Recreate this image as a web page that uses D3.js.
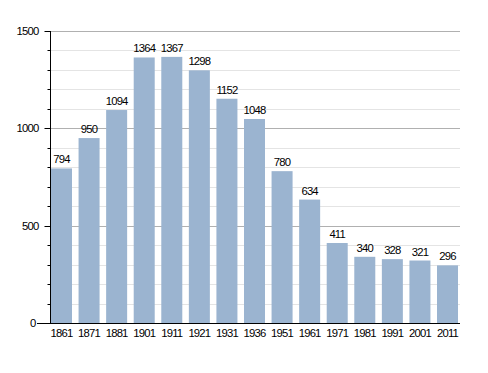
<!DOCTYPE html>
<html><head><meta charset="utf-8">
<script src="https://cdn.jsdelivr.net/npm/d3@7"></script>
<style>body{margin:0;background:#fff}svg{display:block}text{font-family:"Liberation Sans",Arial,sans-serif;font-size:11.3px;letter-spacing:-0.8px;fill:#000}</style>
</head><body>
<svg id="c" width="488" height="373"></svg>
<script>
const years = ["1861","1871","1881","1901","1911","1921","1931","1936","1951","1961","1971","1981","1991","2001","2011"];
const population = [794,950,1094,1364,1367,1298,1152,1048,780,634,411,340,328,321,296];
const yTicks = [0,500,1000,1500];

const svg = d3.select("#c");
const x = d3.scaleBand().domain(years).range([50,459]).paddingInner(0.238).paddingOuter(0.036);
const y = d3.scaleLinear().domain([0,1500]).range([323,31]);

const minor = d3.range(100,1501,100);
svg.append("g").selectAll("line").data(minor).join("line")
  .attr("x1",50).attr("x2",460).attr("y1",d=>Math.round(y(d))+0.5).attr("y2",d=>Math.round(y(d))+0.5)
  .attr("stroke",d=>d%500===0?"#b0b0b0":"#e4e4e4").attr("stroke-width",1);

svg.append("g").selectAll("rect").data(population).join("rect")
  .attr("x",(d,i)=>x(years[i])).attr("width",x.bandwidth())
  .attr("y",d=>y(d)).attr("height",d=>y(0)-y(d)).attr("fill","#9bb4d0");

svg.append("g").selectAll("text").data(population).join("text")
  .attr("x",(d,i)=>x(years[i])+x.bandwidth()/2).attr("y",d=>y(d)-5)
  .attr("text-anchor","middle").text(d=>d);

const ax = svg.append("g").attr("transform","translate(50.5,0)");
ax.append("line").attr("y1",31).attr("y2",y(0)).attr("stroke","#000");
ax.selectAll(".mt").data(d3.range(100,1501,100)).join("line")
  .attr("x1",d=>d%500===0?-6:-3).attr("x2",0)
  .attr("y1",d=>Math.round(y(d))+0.5).attr("y2",d=>Math.round(y(d))+0.5).attr("stroke","#000");
ax.selectAll("text").data(yTicks).join("text")
  .attr("x",d=>d===0?-15:-12).attr("y",d=>y(d)+4).attr("text-anchor","end").text(d=>d);

svg.append("line").attr("x1",37).attr("x2",460).attr("y1",323.5).attr("y2",323.5).attr("stroke","#000");
svg.append("g").selectAll("text").data(years).join("text")
  .attr("x",d=>x(d)+x.bandwidth()/2).attr("y",337).attr("text-anchor","middle").text(d=>d);
</script>
</body></html>
